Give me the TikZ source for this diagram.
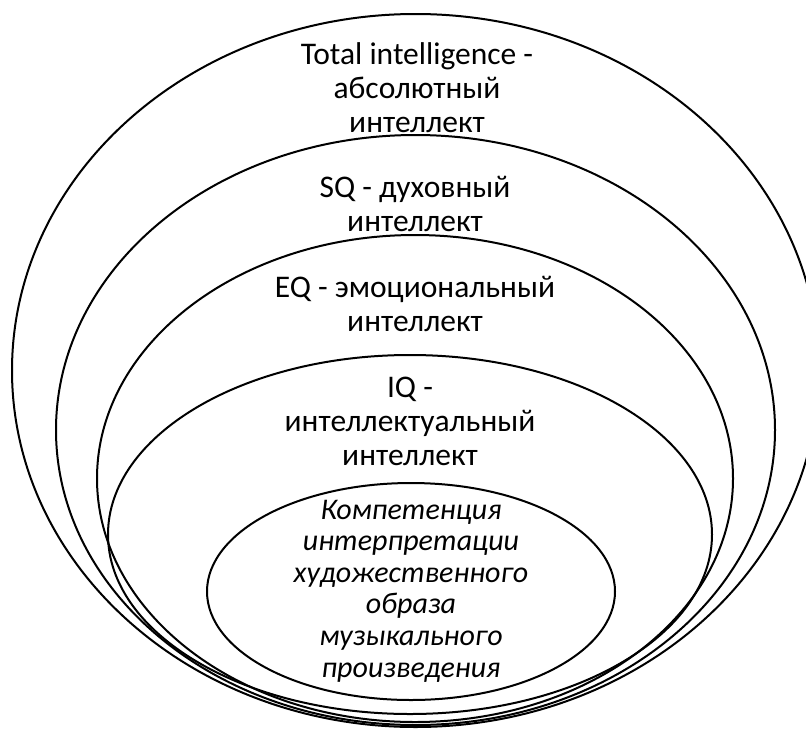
\documentclass[tikz,border=0pt]{standalone}
\usepackage{fontspec}
\setmainfont{Carlito}
\usetikzlibrary{shapes.geometric}
\begin{document}
\begin{tikzpicture}[x=1pt,y=-1pt,
  ring/.style={ellipse,draw=black,line width=2pt,inner sep=0pt,outer sep=0pt},
  label/.style={align=center,inner sep=0pt,font=\fontsize{31.5}{34}\selectfont},
  core/.style={align=center,inner sep=0pt,font=\fontsize{30}{31.6}\selectfont\itshape}]
  \useasboundingbox (0,0) rectangle (806,729);
  \clip (0,0) rectangle (806,729);
  % nested spheres of intelligence, all resting near the bottom edge
  \node[ring,minimum width=807pt,minimum height=713pt] (total) at (415.5,370.5) {};
  \node[ring,minimum width=719pt,minimum height=590pt] (sq) at (415.5,430) {};
  \node[ring,minimum width=636pt,minimum height=487pt] (eq) at (415,478.5) {};
  \node[ring,minimum width=604pt,minimum height=359pt] (iq) at (410,534.5) {};
  \node[ring,minimum width=408pt,minimum height=217pt] (comp) at (411,591.5) {};
  % captions
  \node[label] (totaltext) at (417,88) {Total intelligence -\\абсолютный\\интеллект};
  \node[label] (sqtext) at (415,203.5) {SQ - духовный\\интеллект};
  \node[label] (eqtext) at (415,304) {EQ - эмоциональный\\интеллект};
  \node[label] (iqtext) at (410,421) {IQ -\\интеллектуальный\\интеллект};
  \node[core] (comptext) at (411,591) {Компетенция\\интерпретации\\художественного\\образа\\музыкального\\произведения};
\end{tikzpicture}
\end{document}
